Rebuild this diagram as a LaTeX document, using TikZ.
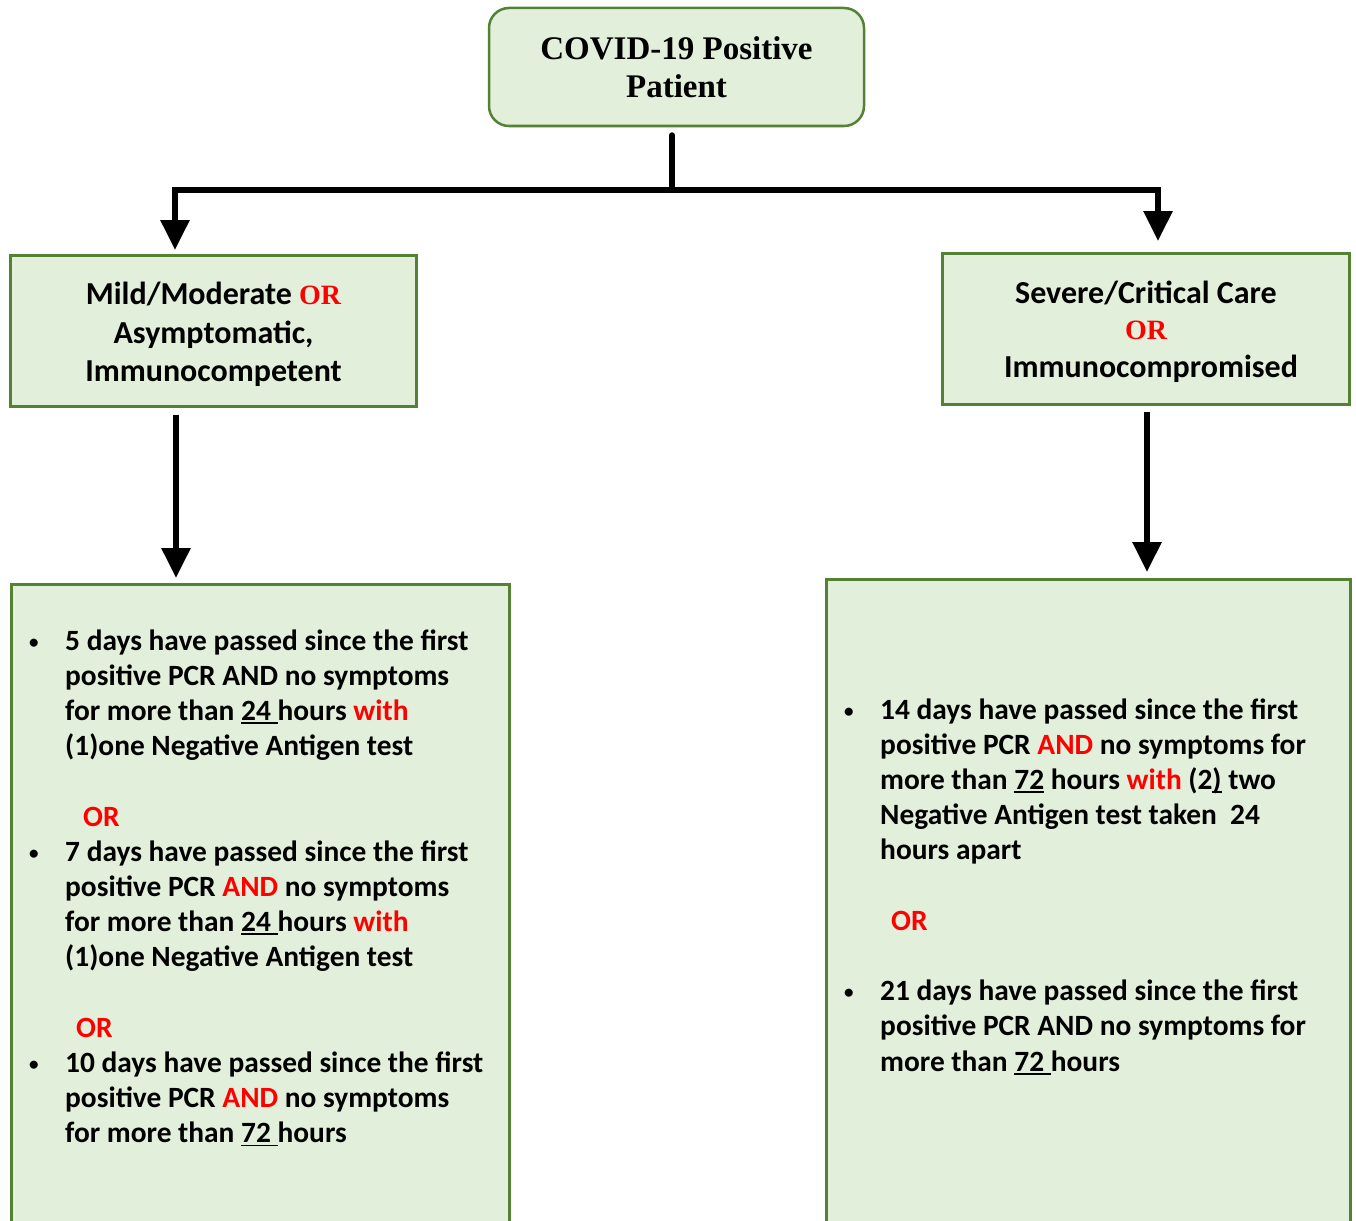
\documentclass[tikz,border=0pt]{standalone}
\usepackage{fontspec}
\setmainfont{Carlito}
\newfontfamily\serifb{Liberation Serif}
\usetikzlibrary{arrows.meta}
\definecolor{boxfill}{HTML}{E2EFDA}
\definecolor{boxline}{HTML}{548235}
\definecolor{ored}{HTML}{FF0000}
\newcommand\rd[1]{\textcolor{ored}{#1}}
\newcommand\ulx[1]{\setbox0\hbox{#1}\rlap{\rule[-3.5pt]{\wd0}{1.8pt}}\box0\relax}
\newcommand\bul{\makebox[0pt][r]{\makebox[36pt][l]{\raisebox{2pt}{\fontsize{19}{19}\selectfont •}}}}
\newcommand\bodyfont{\bfseries\fontsize{29.4}{35.2}\selectfont}
\begin{document}
\begin{tikzpicture}[x=1pt,y=-1pt,
  box/.style={draw=boxline, fill=boxfill, line width=2.5pt, inner sep=0pt},
  conn/.style={line width=6pt, line join=miter, -{Triangle[length=30pt,width=28pt]}},
  midtext/.style={align=center, inner sep=0pt, font=\bfseries\fontsize{32}{38.5}\selectfont},
  bodytext/.style={anchor=base west, inner sep=0pt, font=\bodyfont}]
\useasboundingbox (0,0) rectangle (1356,1220);
\fill[white] (0,0) rectangle (1356,1220);
\clip (0,0) rectangle (1356,1220);

% boxes
\node[box, rounded corners=20pt, minimum width=375pt, minimum height=118pt,
      align=center, font=\serifb\bfseries\fontsize{33}{38}\selectfont] (top) at (676.5,67)
  {COVID-19 Positive\\Patient};
\node[box, minimum width=406pt, minimum height=151pt] (mild) at (213.5,331) {};
\node[midtext] (mildt) at (213.5,334.5)
  {Mild/Moderate {\serifb\fontsize{28}{38.5}\selectfont\rd{OR}}\\Asymptomatic,\\Immunocompetent};
\node[box, minimum width=407pt, minimum height=151pt] (sev) at (1146,329) {};
\node[midtext] (sevt) at (1146,332)
  {Severe/Critical Care\\[-3pt]{\serifb\fontsize{28}{38.5}\selectfont\rd{OR}}\\[0pt]\hspace{10pt}Immunocompromised};
\node[box, minimum width=498pt, minimum height=660pt, anchor=north west] (lbox) at (10.25,583.25) {};
\node[box, minimum width=524pt, minimum height=670pt, anchor=north west] (rbox) at (825.25,578.25) {};

% texts in lower boxes
\node[bodytext] (ltext) at (65,650) {\begin{tabular}[t]{@{}l@{}}
\bul 5 days have passed since the first\\
positive PCR AND no symptoms\\
for more than \ulx{24\ }hours \rd{with}\\
(1)one Negative Antigen test\\
\\
\hspace{18pt}\rd{OR}\\
\bul 7 days have passed since the first\\
positive PCR \rd{AND} no symptoms\\
for more than \ulx{24\ }hours \rd{with}\\
(1)one Negative Antigen test\\
\\
\hspace{11pt}\rd{OR}\\
\bul 10 days have passed since the first\\
positive PCR \rd{AND} no symptoms\\
for more than \ulx{72\ }hours
\end{tabular}};

\node[bodytext] (rtext) at (880,719) {\begin{tabular}[t]{@{}l@{}}
\bul 14 days have passed since the first\\
positive PCR \rd{AND} no symptoms for\\
more than \ulx{72} hours \rd{with} (2\ulx{)} two\\
Negative Antigen test taken \ 24\\
hours apart\\
\\
\hspace{11pt}\rd{OR}\\
\\
\bul 21 days have passed since the first\\
positive PCR AND no symptoms for\\
more than \ulx{72\ }hours
\end{tabular}};

% connectors
\coordinate (split) at (672,190);
\coordinate (ltip) at (175,250);
\coordinate (rtip) at (1158,241);
\coordinate (lbt) at (176,578);
\coordinate (rbt) at (1147,572);
\draw[line width=6pt, line cap=round] (top.south -| split) ++(0,8) -- (split);
\draw[conn] (split) -| (ltip);
\draw[conn] (split) -| (rtip);
\draw[conn] (mild.south -| lbt) ++(0,7) -- (lbt);
\draw[conn] (sev.south -| rbt) ++(0,6) -- (rbt);
\end{tikzpicture}
\end{document}
